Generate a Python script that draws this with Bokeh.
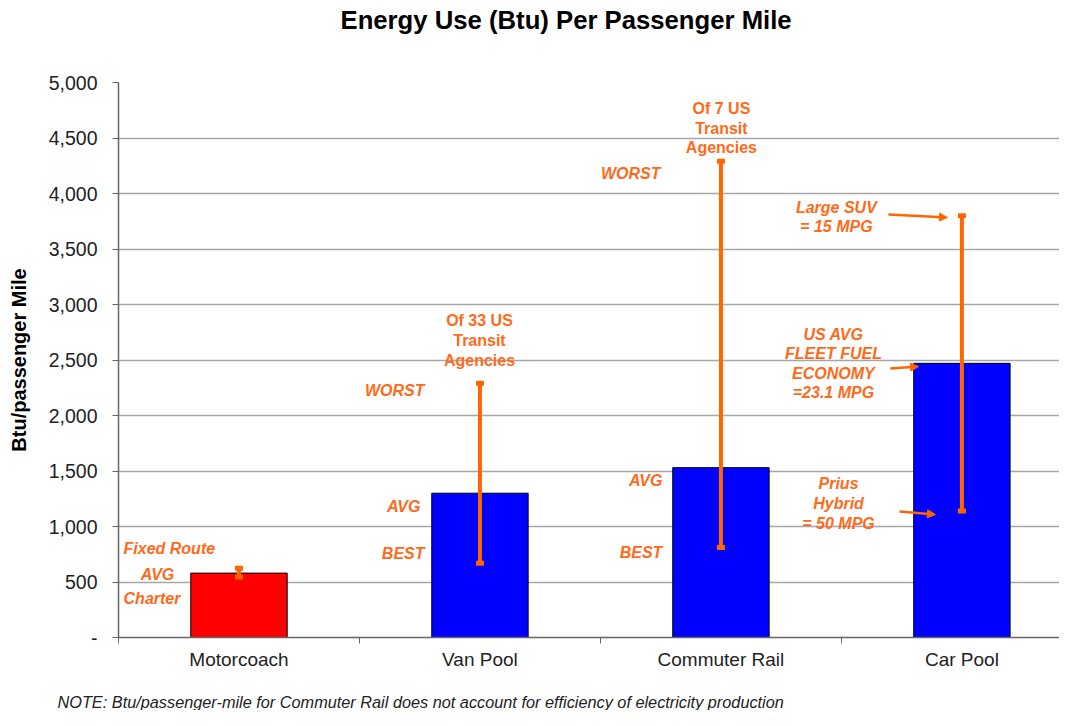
from bokeh.plotting import figure
from bokeh.models import (ColumnDataSource, Whisker, TeeHead, Arrow, NormalHead,
                          FixedTicker, NumeralTickFormatter, Range1d, Title)
from bokeh.core.properties import value
from bokeh.embed import file_html
from bokeh.resources import INLINE

# ---------------- data ----------------
categories = ["Motorcoach", "Van Pool", "Commuter Rail", "Car Pool"]
avg_btu = [580, 1300, 1530, 2470]
best_btu = [545, 670, 810, 1140]
worst_btu = [625, 2290, 4290, 3800]
bar_colors = ["#FF0000", "#0000FF", "#0000FF", "#0000FF"]
y_ticks = [0, 500, 1000, 1500, 2000, 2500, 3000, 3500, 4000, 4500, 5000]

FONT = "Liberation Sans"
ORANGE = "#FF6600"
TEXT_ORANGE = "#FF6A1A"

x_pos = [i + 0.5 for i in range(len(categories))]

p = figure(width=1059, height=710, output_backend="svg", toolbar_location=None,
           x_range=Range1d(0, 3.905), y_range=Range1d(0, 5000),
           min_border_left=118, min_border_right=0, min_border_top=82,
           min_border_bottom=71)
p.outline_line_color = None
p.xgrid.visible = False
p.ygrid.grid_line_color = "#A6A6A6"
p.ygrid.grid_line_width = 1.5

# y axis
p.yaxis.ticker = FixedTicker(ticks=y_ticks)
p.yaxis.formatter = NumeralTickFormatter(format="0,0")
p.yaxis.major_label_overrides = {0: "-"}
p.yaxis.axis_label = "Btu/passenger Mile"
p.yaxis.axis_label_text_font = FONT
p.yaxis.axis_label_text_font_size = "20px"
p.yaxis.axis_label_text_font_style = "bold"
p.yaxis.axis_label_text_color = "#000000"
p.yaxis.axis_label_standoff = 16
p.yaxis.major_label_text_font = FONT
p.yaxis.major_label_text_font_size = "19.5px"
p.yaxis.major_label_text_color = "#222222"
p.yaxis.major_label_standoff = 15
p.yaxis.major_tick_in = 0
p.yaxis.major_tick_out = 6
p.yaxis.minor_tick_line_color = None
p.yaxis.major_tick_line_color = "#666666"

# x axis
p.xaxis.ticker = FixedTicker(ticks=x_pos, minor_ticks=[0, 1, 2, 3, 4])
p.xaxis.major_label_overrides = {x: c for x, c in zip(x_pos, categories)}
p.xaxis.major_tick_line_color = None
p.xaxis.minor_tick_in = 0
p.xaxis.minor_tick_out = 6
p.xaxis.minor_tick_line_color = "#666666"
p.xaxis.major_label_text_font = FONT
p.xaxis.major_label_text_font_size = "19px"
p.xaxis.major_label_text_color = "#222222"
p.xaxis.major_label_standoff = 5

for ax in (p.xaxis, p.yaxis):
    ax.axis_line_color = "#666666"
    ax.axis_line_width = 1.5

src = ColumnDataSource(dict(x=x_pos, cat=categories, avg=avg_btu,
                            best=best_btu, worst=worst_btu, color=bar_colors))

p.vbar(x="x", top="avg", width=0.4, source=src, fill_color="color",
       line_color="#000000", line_width=1)

wh = Whisker(source=src, base="x", upper="worst", lower="best",
             line_color=ORANGE, line_width=4, level="overlay",
             upper_head=TeeHead(size=8, line_width=5, line_color=ORANGE),
             lower_head=TeeHead(size=8, line_width=5, line_color=ORANGE))
p.add_layout(wh)

common = dict(text_font=value(FONT), text_font_size="16px",
              text_color=TEXT_ORANGE, text_baseline="middle",
              text_line_height=1.15)

# right-aligned italic labels (WORST / AVG / BEST)
right_lbl = ColumnDataSource(dict(
    x=[1.27, 1.253, 1.27, 2.249, 2.257, 2.257],
    y=[2225, 1180, 757, 4180, 1414, 766],
    t=["WORST", "AVG", "BEST", "WORST", "AVG", "BEST"]))
p.text(x="x", y="y", text="t", source=right_lbl, text_align="right",
       text_font_style="bold italic", **common)

# left-aligned italic labels (Motorcoach)
left_lbl = ColumnDataSource(dict(
    x=[0.021, 0.021],
    y=[802, 351],
    t=["Fixed Route", "Charter"]))
p.text(x="x", y="y", text="t", source=left_lbl, text_align="left",
       text_font_style="bold italic", **common)

# centered italic labels
center_it = ColumnDataSource(dict(
    x=[0.162, 2.979, 2.967, 2.988],
    y=[568, 3788, 2468, 1207],
    t=["AVG", "Large SUV\n= 15 MPG", "US AVG\nFLEET FUEL\nECONOMY\n=23.1 MPG",
       "Prius\nHybrid\n= 50 MPG"]))
p.text(x="x", y="y", text="t", source=center_it, text_align="center",
       text_font_style="bold italic", **common)

# centered upright bold labels
center_b = ColumnDataSource(dict(
    x=[1.498, 2.502],
    y=[2676, 4586],
    t=["Of 33 US\nTransit\nAgencies", "Of 7 US\nTransit\nAgencies"]))
p.text(x="x", y="y", text="t", source=center_b, text_align="center",
       text_font_style="bold", **common)

# arrows on the Car Pool range
car = 3
arrow_specs = [
    (3.195, worst_btu[car] + 10, 3.44, worst_btu[car] - 16),
    (3.203, avg_btu[car] - 47, 3.32, avg_btu[car] - 29),
    (3.241, best_btu[car] - 5, 3.39, best_btu[car] - 32),
]
for xs, ys, xe, ye in arrow_specs:
    p.add_layout(Arrow(x_start=xs, y_start=ys, x_end=xe, y_end=ye,
                       line_color=ORANGE, line_width=2.5,
                       end=NormalHead(size=8, fill_color=ORANGE,
                                      line_color=ORANGE)))

# title: a thin spacer next to the frame, then the title text outside it
p.add_layout(Title(text=" ", text_font_size="1px", standoff=46), "above")
p.add_layout(Title(text="Energy Use (Btu) Per Passenger Mile", align="left",
                   offset=222, standoff=0, text_font=FONT,
                   text_font_size="25.7px", text_font_style="bold",
                   text_color="#000000"), "above")

# footnote below the x axis (spacer, then the note)
p.add_layout(Title(text=" ", text_font_size="1px", standoff=15), "below")
p.add_layout(Title(text="NOTE: Btu/passenger-mile  for Commuter Rail does not "
                        "account for efficiency of electricity production",
                   align="left", offset=-61, standoff=0, text_font=FONT,
                   text_font_size="16.3px", text_font_style="italic",
                   text_color="#222222"), "below")

open("out.html", "w").write(file_html(p, INLINE))
